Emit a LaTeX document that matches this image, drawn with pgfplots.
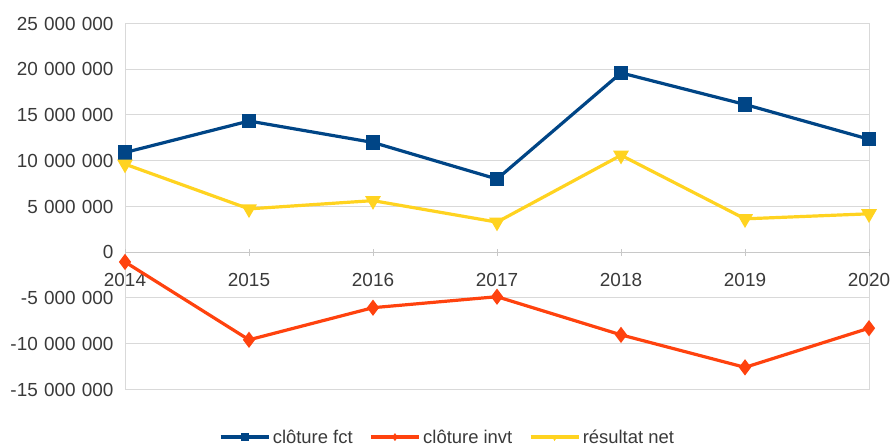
\documentclass[border=0pt]{standalone}
\usepackage{pgfplots}
\pgfplotsset{compat=1.18}
\usepackage{fontspec}
\setmainfont{Liberation Sans}
\definecolor{cblue}{HTML}{004586}
\definecolor{corange}{HTML}{FF420E}
\definecolor{cyellow}{HTML}{FFD320}
\definecolor{cgrid}{HTML}{D9D9D9}
\definecolor{czero}{HTML}{C8C8C8}
\definecolor{ctext}{HTML}{3A3A3A}
\begin{document}
\begin{tikzpicture}[x=1bp,y=1bp]
\useasboundingbox (0,0) rectangle (893,448);
\pgfplotsset{common/.style={scale only axis, width=744bp, height=366bp,
  at={(125bp,58.5bp)}, anchor=south west,
  xmin=2014, xmax=2020, ymin=-15000000, ymax=25000000, clip=false,
  font=\fontsize{19}{21}\selectfont, tick label style={text=ctext}}}
\begin{axis}[common,
  axis line style={cgrid, line width=1bp},
  ytick={-15000000,-10000000,-5000000,0,5000000,10000000,15000000,20000000,25000000},
  ymajorgrids, grid style={cgrid, line width=1bp},
  xtick=\empty, major tick length=0,
  scaled y ticks=false,
  yticklabel style={xshift=-8bp, /pgf/number format/.cd, fixed, 1000 sep={\hspace{0.33em}}, assume math mode=true},
]
\end{axis}
\begin{axis}[common,
  axis x line=middle, axis y line=none,
  x axis line style={czero, line width=1bp, -},
  xtick={2014,2015,2016,2017,2018,2019,2020},
  xticklabel style={yshift=-14bp, /pgf/number format/.cd, 1000 sep={}, assume math mode=true},
  major tick length=7bp, tick style={czero, line width=1bp},
  legend columns=3,
  legend style={at={(0.433,-0.13)}, anchor=center, draw=none, fill=none,
    font=\fontsize{18.5}{20}\selectfont, text=ctext,
    /tikz/every even column/.append style={column sep=14bp}},
  legend image code/.code={\draw[line width=4.5bp, mark repeat=2, mark phase=2, mark size=3.5bp, every mark/.append style={line width=0.5bp}] plot coordinates {(0bp,0bp) (24bp,0bp) (48bp,0bp)};},
]
\addplot[cblue, line width=3.2bp, mark=square*, mark size=5.5bp] coordinates {
(2014,10900000) (2015,14340000) (2016,12000000) (2017,8000000) (2018,19600000) (2019,16150000) (2020,12350000)};
\addlegendentry{clôture fct}
\addplot[corange, line width=3.2bp, mark=diamond*, mark size=5.5bp] coordinates {
(2014,-1060000) (2015,-9570000) (2016,-6060000) (2017,-4860000) (2018,-9030000) (2019,-12580000) (2020,-8300000)};
\addlegendentry{clôture invt}
\addplot[cyellow, line width=3.2bp, mark=triangle*, mark size=6bp, mark options={rotate=180}] coordinates {
(2014,9630000) (2015,4740000) (2016,5640000) (2017,3290000) (2018,10600000) (2019,3650000) (2020,4200000)};
\addlegendentry{résultat net}
\end{axis}
\end{tikzpicture}
\end{document}
